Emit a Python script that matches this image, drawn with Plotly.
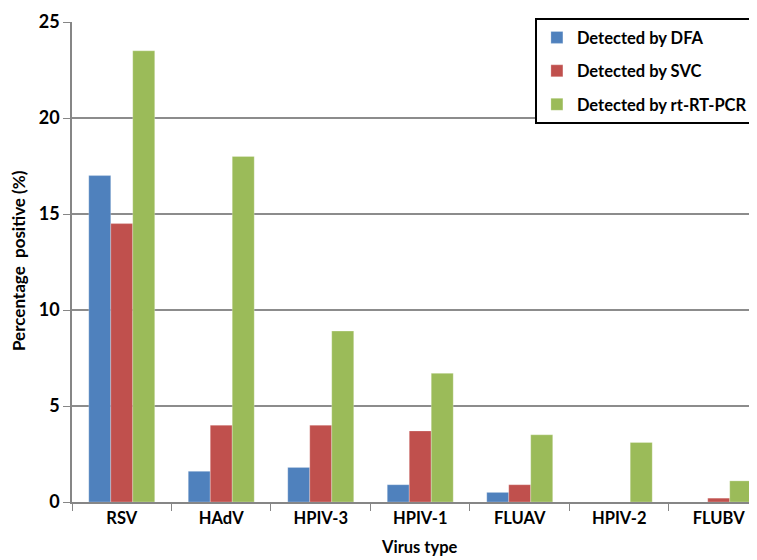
import plotly.graph_objects as go

categories = ["RSV", "HAdV", "HPIV-3", "HPIV-1", "FLUAV", "HPIV-2", "FLUBV"]
dfa = [17.0, 1.6, 1.8, 0.9, 0.5, 0, 0]
svc = [14.5, 4.0, 4.0, 3.7, 0.9, 0, 0.2]
pcr = [23.5, 18.0, 8.9, 6.7, 3.5, 3.1, 1.1]
series_names = ["Detected by DFA", "Detected by SVC", "Detected by rt-RT-PCR"]
colors = ["#4F81BD", "#C0504D", "#9BBB59"]
y_ticks = [0, 5, 10, 15, 20, 25]

FONT = "Lato"
fig = go.Figure()
for i, (name, vals) in enumerate(zip(series_names, [dfa, svc, pcr])):
    fig.add_trace(go.Bar(
        x=categories, y=vals, name=name, legendgroup=str(i),
        marker=dict(color=colors[i], line=dict(color="rgba(255,255,255,0.5)", width=0.5)),
    ))

fig.update_layout(
    width=757, height=560,
    margin=dict(l=64, r=0, t=14, b=66, autoexpand=False),
    paper_bgcolor="white", plot_bgcolor="white",
    barmode="group", bargap=0.337, bargroupgap=0,
    font=dict(family=FONT, size=16, color="black"),
    legend=dict(
        x=0.984, y=1.008, xanchor="right", yanchor="top",
        bordercolor="black", borderwidth=2, bgcolor="white",
        font=dict(family=FONT, size=16.5, color="black", weight="bold"),
        tracegroupgap=9, itemwidth=30,
    ),
    xaxis=dict(
        range=[-0.5, 6.465], showline=True, linecolor="#868686", linewidth=1.5,
        ticks="outside", tickson="boundaries", ticklen=7, tickcolor="#868686",
        tickfont=dict(family=FONT, size=16.5, weight="bold"), automargin=False,
    ),
    yaxis=dict(
        range=[0, 25], tickvals=y_ticks, showline=True, linecolor="#868686", linewidth=1.5,
        ticks="outside", ticklen=7, tickcolor="#868686",
        showgrid=True, gridcolor="#8c8c8c", gridwidth=1.5, zeroline=False,
        tickfont=dict(family=FONT, size=18, weight="bold"), automargin=False,
    ),
    annotations=[
        dict(text="<b>Percentage  positive (%)</b>", xref="paper", yref="paper",
             x=-0.078, y=0.504, textangle=-90, showarrow=False,
             font=dict(family=FONT, size=17), xanchor="center", yanchor="middle"),
        dict(text="<b>Virus type</b>", xref="paper", yref="paper",
             x=0.502, y=-0.093, showarrow=False,
             font=dict(family=FONT, size=16.5), xanchor="center", yanchor="middle"),
    ],
)

fig.write_html("out.html")
